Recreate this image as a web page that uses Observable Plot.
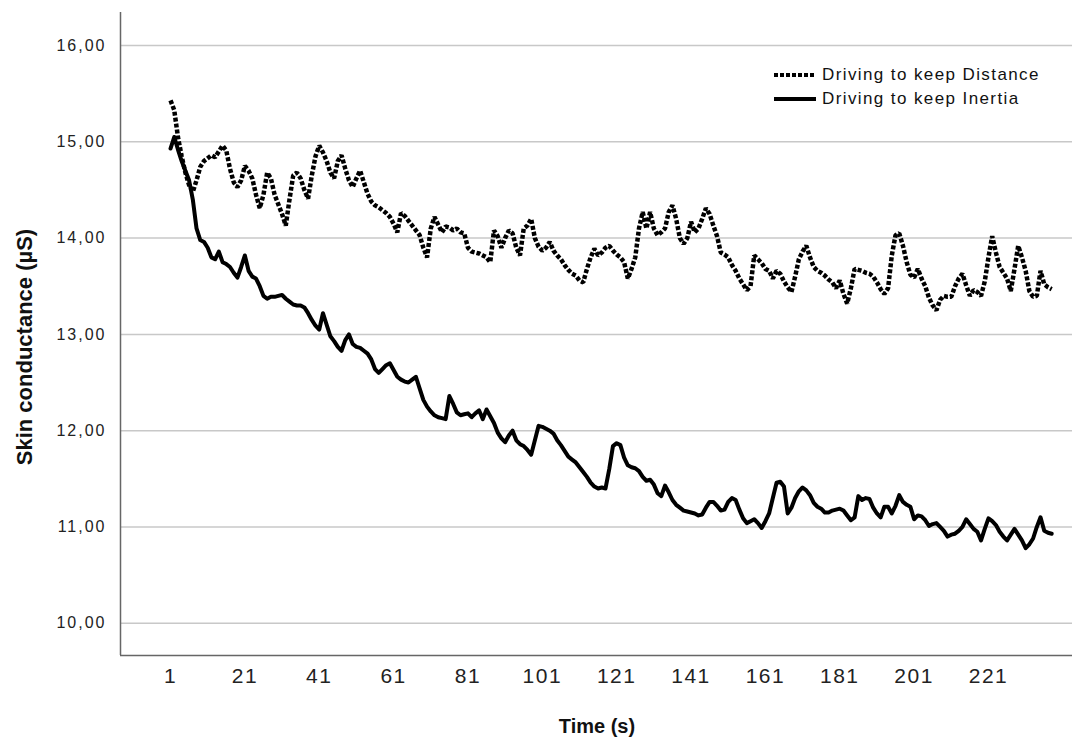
<!DOCTYPE html>
<html><head><meta charset="utf-8">
<script src="https://cdn.jsdelivr.net/npm/d3@7"></script>
<script src="https://cdn.jsdelivr.net/npm/@observablehq/plot@0.6"></script>
<style>
body{margin:0;background:#fff;}
#wrap{position:relative;width:1086px;height:742px;font-family:"Liberation Sans",Arial,sans-serif;color:#111;}
#wrap > svg{position:absolute;left:0;top:0;font-family:"Liberation Sans",Arial,sans-serif;}
#wrap svg [aria-label="y-axis tick label"] text{letter-spacing:2px;font-size:16px;}
#wrap svg [aria-label="x-axis tick label"] text{letter-spacing:1.5px;font-size:21px;}
.ytitle{position:absolute;left:-175px;top:334px;width:400px;text-align:center;transform:rotate(-90deg);font-weight:bold;font-size:22px;}
.xtitle{position:absolute;left:397px;top:715px;width:400px;text-align:center;font-weight:bold;font-size:20px;}
.legend{position:absolute;left:774px;top:63px;font-size:17px;letter-spacing:1.4px;}
.legend .row{display:flex;align-items:center;height:24px;}
#wrap .legend svg{position:static;margin-right:6px;}
</style></head><body><div id="wrap"></div>
<script>
const seriesNames = ["Driving to keep Distance", "Driving to keep Inertia"];
const distance = [
15.43,15.33,15.05,14.85,14.68,14.55,14.48,14.60,14.74,14.80,
14.83,14.86,14.84,14.90,14.96,14.91,14.72,14.58,14.53,14.60,
14.75,14.70,14.62,14.45,14.31,14.45,14.68,14.62,14.45,14.35,
14.25,14.13,14.40,14.65,14.68,14.62,14.50,14.41,14.65,14.85,
14.96,14.89,14.80,14.68,14.62,14.80,14.86,14.72,14.60,14.53,
14.62,14.70,14.58,14.46,14.38,14.34,14.32,14.29,14.26,14.22,
14.15,14.06,14.26,14.23,14.18,14.13,14.08,14.03,13.90,13.80,
14.10,14.22,14.14,14.06,14.12,14.11,14.08,14.10,14.06,14.05,
13.90,13.86,13.85,13.84,13.82,13.80,13.75,14.08,14.02,13.90,
14.00,14.08,14.05,13.90,13.82,14.10,14.13,14.20,14.00,13.91,
13.87,13.90,13.96,13.87,13.82,13.78,13.72,13.67,13.63,13.61,
13.56,13.54,13.68,13.80,13.89,13.82,13.85,13.90,13.92,13.87,
13.83,13.80,13.75,13.58,13.68,13.80,14.10,14.27,14.10,14.27,
14.10,14.03,14.06,14.10,14.27,14.34,14.20,14.00,13.94,14.00,
14.17,14.06,14.10,14.20,14.31,14.25,14.13,14.02,13.85,13.83,
13.80,13.72,13.66,13.58,13.52,13.46,13.50,13.82,13.78,13.74,
13.68,13.66,13.58,13.66,13.63,13.55,13.49,13.44,13.60,13.78,
13.86,13.92,13.80,13.70,13.66,13.64,13.61,13.57,13.54,13.48,
13.56,13.42,13.32,13.48,13.68,13.67,13.66,13.64,13.63,13.60,
13.54,13.47,13.42,13.48,13.82,14.03,14.05,13.92,13.75,13.62,
13.59,13.68,13.58,13.50,13.38,13.30,13.25,13.36,13.40,13.39,
13.39,13.50,13.58,13.63,13.51,13.40,13.46,13.44,13.40,13.55,
13.80,14.02,13.85,13.70,13.64,13.58,13.45,13.68,13.92,13.80,
13.66,13.45,13.39,13.40,13.66,13.52,13.49,13.47
];
const inertia = [
14.93,15.05,14.92,14.80,14.70,14.60,14.40,14.10,13.98,13.96,
13.90,13.80,13.78,13.86,13.75,13.73,13.70,13.64,13.59,13.70,
13.82,13.66,13.60,13.58,13.50,13.40,13.37,13.39,13.39,13.40,
13.41,13.37,13.34,13.31,13.30,13.30,13.28,13.22,13.15,13.09,
13.05,13.22,13.10,12.98,12.93,12.87,12.83,12.94,13.00,12.90,
12.87,12.86,12.83,12.80,12.74,12.64,12.60,12.64,12.68,12.70,
12.63,12.56,12.53,12.51,12.50,12.53,12.56,12.44,12.32,12.25,
12.20,12.16,12.14,12.13,12.12,12.36,12.28,12.19,12.16,12.17,
12.18,12.14,12.18,12.21,12.12,12.22,12.15,12.08,11.98,11.92,
11.88,11.95,12.00,11.90,11.86,11.84,11.80,11.75,11.90,12.05,
12.04,12.02,12.00,11.97,11.90,11.85,11.79,11.73,11.70,11.67,
11.62,11.57,11.52,11.46,11.42,11.40,11.41,11.40,11.60,11.84,
11.87,11.85,11.72,11.64,11.62,11.61,11.58,11.52,11.48,11.49,
11.44,11.35,11.32,11.43,11.36,11.28,11.23,11.20,11.17,11.16,
11.15,11.14,11.12,11.13,11.20,11.26,11.26,11.22,11.17,11.18,
11.26,11.30,11.28,11.18,11.09,11.04,11.06,11.08,11.04,10.99,
11.06,11.14,11.30,11.46,11.47,11.42,11.14,11.20,11.30,11.37,
11.41,11.38,11.33,11.25,11.21,11.19,11.15,11.15,11.17,11.18,
11.19,11.17,11.12,11.07,11.10,11.32,11.28,11.30,11.29,11.20,
11.14,11.10,11.21,11.21,11.14,11.22,11.33,11.26,11.23,11.21,
11.08,11.12,11.11,11.07,11.01,11.03,11.04,11.00,10.96,10.90,
10.92,10.93,10.96,11.00,11.08,11.03,10.98,10.95,10.86,10.98,
11.09,11.06,11.02,10.95,10.90,10.86,10.92,10.98,10.92,10.86,
10.78,10.82,10.88,11.00,11.10,10.96,10.94,10.93
];
const xTicks = [1,21,41,61,81,101,121,141,161,181,201,221];
const yTicks = [10,11,12,13,14,15,16];
const xDomain = [-12.45, 243.6];
const yDomain = [9.665, 16.343];
const xTitle = "Time (s)";
const yTitle = "Skin conductance (µS)";

const fmt = d => d.toFixed(2).replace(".", ",");
const tIndex = (d, i) => i + 1;

const chart = Plot.plot({
  width: 1086, height: 742,
  marginLeft: 120, marginRight: 14, marginTop: 12, marginBottom: 87,
  x: {domain: xDomain},
  y: {domain: yDomain},
  marks: [
    Plot.gridY(yTicks, {stroke: "#c8c8c8", strokeOpacity: 1, strokeWidth: 1.5}),
    Plot.axisY(yTicks, {tickSize: 0, tickPadding: 14, tickFormat: fmt, fontSize: 16, fill: "#222", label: null}),
    Plot.axisX(xTicks, {tickSize: 0, tickPadding: 13, fontSize: 21, fill: "#222", label: null}),
    Plot.ruleX([xDomain[0]], {stroke: "#666", strokeWidth: 1.5}),
    Plot.ruleY([yDomain[0]], {stroke: "#666", strokeWidth: 1.5}),
    Plot.lineY(distance, {x: tIndex, y: d => d, stroke: "#000", strokeWidth: 4.5, strokeDasharray: "4,2", strokeLinecap: "butt", strokeLinejoin: "miter"}),
    Plot.lineY(inertia, {x: tIndex, y: d => d, stroke: "#000", strokeWidth: 4})
  ]
});
const wrap = document.getElementById("wrap");
wrap.appendChild(chart);

const yt = document.createElement("div"); yt.className = "ytitle"; yt.textContent = yTitle; wrap.appendChild(yt);
const xt = document.createElement("div"); xt.className = "xtitle"; xt.textContent = xTitle; wrap.appendChild(xt);

const leg = document.createElement("div"); leg.className = "legend";
seriesNames.forEach((name, i) => {
  const row = document.createElement("div"); row.className = "row";
  const dash = i === 0 ? 'stroke-dasharray="4,2"' : "";
  row.innerHTML = `<svg width="42" height="12"><line x1="0" y1="6" x2="42" y2="6" stroke="#000" stroke-width="4" ${dash}/></svg><span>${name}</span>`;
  leg.appendChild(row);
});
wrap.appendChild(leg);
</script></body></html>
